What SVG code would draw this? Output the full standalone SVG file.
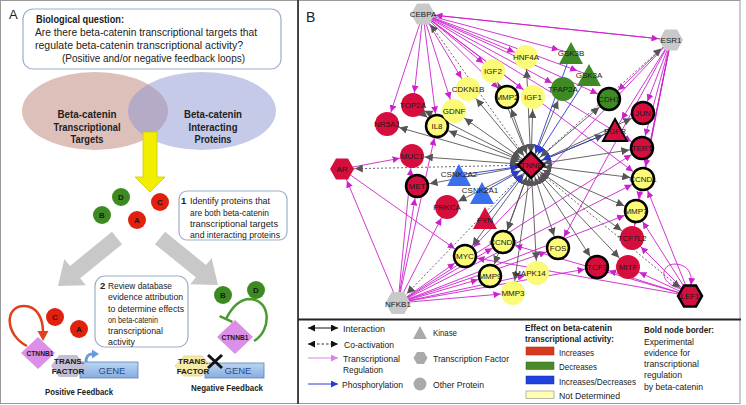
<svg xmlns="http://www.w3.org/2000/svg" width="746" height="405" viewBox="0 0 746 405">
<style>
text{font-family:"Liberation Sans",Arial,sans-serif;fill:#222}
.nl{font-size:8px;text-anchor:middle;fill:#1a1a1a}
.r{fill:#d60e3e}
.y{fill:#fbfb78}
.gn{fill:#3e8b25}
.bu{fill:#3a6ff0}
.gy{fill:#c9c9c9}
.ring{fill:none;stroke:#000;stroke-width:2.5}
.m{stroke:#cc22cc;stroke-width:0.9;fill:none;marker-end:url(#am)}
.g{stroke:#555;stroke-width:0.9;marker-start:url(#ag);marker-end:url(#ag)}
.d{stroke:#555;stroke-width:0.9;stroke-dasharray:2 2;marker-start:url(#ag);marker-end:url(#ag)}
.b{stroke:#2b3ad0;stroke-width:0.9;marker-end:url(#ab)}
.bx{fill:#fff;stroke:#9cadcc;stroke-width:1.2}
.ta{font-size:10.5px}
.tb{font-size:9.5px}
.tl{font-size:9.5px}
.bo{font-weight:bold}
.lt{font-size:8px;font-weight:bold;text-anchor:middle;fill:#1a1a1a}
</style>
<defs>
<marker id="ag" viewBox="0 0 10 10" refX="26" refY="5" markerUnits="userSpaceOnUse" markerWidth="8" markerHeight="8" orient="auto-start-reverse"><path d="M0,0L10,5L0,10z" fill="#555"/></marker>
<marker id="am" viewBox="0 0 10 10" refX="28" refY="5" markerUnits="userSpaceOnUse" markerWidth="7" markerHeight="7" orient="auto"><path d="M0,0L10,5L0,10z" fill="#cc22cc"/></marker>
<marker id="am0" viewBox="0 0 10 10" refX="10" refY="5" markerUnits="userSpaceOnUse" markerWidth="7" markerHeight="7" orient="auto"><path d="M0,0L10,5L0,10z" fill="#cc22cc"/></marker>
<marker id="ab" viewBox="0 0 10 10" refX="26" refY="5" markerUnits="userSpaceOnUse" markerWidth="8" markerHeight="8" orient="auto"><path d="M0,0L10,5L0,10z" fill="#2b3ad0"/></marker>
<marker id="lk" viewBox="0 0 10 10" refX="10" refY="5" markerUnits="userSpaceOnUse" markerWidth="7" markerHeight="7" orient="auto-start-reverse"><path d="M0,0L10,5L0,10z" fill="#111"/></marker>
<marker id="lm" viewBox="0 0 10 10" refX="10" refY="5" markerUnits="userSpaceOnUse" markerWidth="7" markerHeight="7" orient="auto"><path d="M0,0L10,5L0,10z" fill="#e07ef0"/></marker>
<marker id="lb" viewBox="0 0 10 10" refX="10" refY="5" markerUnits="userSpaceOnUse" markerWidth="7" markerHeight="7" orient="auto"><path d="M0,0L10,5L0,10z" fill="#2b3ad0"/></marker>
<polygon id="hex" points="-12,0 -6,-10.4 6,-10.4 12,0 6,10.4 -6,10.4"/>
<polygon id="tri" points="0,-11 12,11 -12,11"/>
<linearGradient id="gene" x1="0" y1="0" x2="0" y2="1"><stop offset="0" stop-color="#bcd6f2"/><stop offset="1" stop-color="#86ace0"/></linearGradient>
</defs>

<!-- frames -->
<rect x="0.5" y="0.5" width="297.5" height="403" fill="#fff" stroke="#999"/>
<rect x="298.5" y="0.5" width="441.5" height="403" fill="#fff" stroke="#999"/>
<line x1="298" y1="0" x2="298" y2="404" stroke="#222" stroke-width="1.5"/>
<line x1="298" y1="319.5" x2="741" y2="319.5" stroke="#222" stroke-width="2"/>

<!-- PANEL A -->
<g id="panelA">
<text x="9" y="19" font-size="13">A</text>
<g id="question">
<rect class="bx" x="23" y="9" width="258" height="60" rx="10"/>
<text class="ta bo" x="36" y="23" textLength="88" lengthAdjust="spacingAndGlyphs">Biological question:</text>
<text class="ta" x="35" y="36" textLength="222" lengthAdjust="spacingAndGlyphs">Are there beta-catenin transcriptional targets that</text>
<text class="ta" x="35" y="49" textLength="208" lengthAdjust="spacingAndGlyphs">regulate beta-catenin transcriptional activity?</text>
<text class="ta" x="62" y="62" textLength="183" lengthAdjust="spacingAndGlyphs">(Positive and/or negative feedback loops)</text>
</g>
<g id="venn">
<ellipse cx="95" cy="111" rx="73" ry="39" fill="#be8278" fill-opacity="0.5"/>
<ellipse cx="202" cy="111" rx="74" ry="39" fill="#8c96d2" fill-opacity="0.5"/>
<text class="ta bo" x="87" y="118" text-anchor="middle" textLength="59" lengthAdjust="spacingAndGlyphs">Beta-catenin</text>
<text class="ta bo" x="87" y="131" text-anchor="middle" textLength="67" lengthAdjust="spacingAndGlyphs">Transcriptional</text>
<text class="ta bo" x="87" y="143" text-anchor="middle" textLength="33" lengthAdjust="spacingAndGlyphs">Targets</text>
<text class="ta bo" x="213" y="118" text-anchor="middle" textLength="58" lengthAdjust="spacingAndGlyphs">Beta-catenin</text>
<text class="ta bo" x="213" y="131" text-anchor="middle" textLength="49" lengthAdjust="spacingAndGlyphs">Interacting</text>
<text class="ta bo" x="213" y="143" text-anchor="middle" textLength="37" lengthAdjust="spacingAndGlyphs">Proteins</text>
</g>
<polygon id="yellowArrow" points="143,132 157,132 157,177 165,177 150,192 135,177 143,177" fill="#f2ee00" stroke="#d0c800" stroke-width="0.8"/>
<g id="dots">
<circle cx="121" cy="197" r="9" fill="#3d8a22"/><text class="lt" x="121" y="200">D</text>
<circle cx="102" cy="215" r="9" fill="#3d8a22"/><text class="lt" x="102" y="218">B</text>
<circle cx="160" cy="202" r="9" fill="#e2200e"/><text class="lt" x="160" y="205">C</text>
<circle cx="137" cy="220" r="9" fill="#e2200e"/><text class="lt" x="137" y="223">A</text>
</g>
<g id="step1">
<rect class="bx" x="179" y="191" width="108" height="49" rx="8"/>
<text class="tb bo" x="181" y="204">1</text>
<text class="tb" x="190" y="204" textLength="80" lengthAdjust="spacingAndGlyphs">Identify proteins that</text>
<text class="tb" x="190" y="215.5" textLength="79" lengthAdjust="spacingAndGlyphs">are both beta-catenin</text>
<text class="tb" x="190" y="226.5" textLength="88" lengthAdjust="spacingAndGlyphs">transcriptional targets</text>
<text class="tb" x="190" y="237.5" textLength="90" lengthAdjust="spacingAndGlyphs">and interacting proteins</text>
</g>
<polygon id="grayArrowL" points="122.05,244.21 80.12,278.33 85.8,285.31 58,286 64.34,258.93 70.02,265.91 111.95,231.79" fill="#c8c8c8"/>
<polygon id="grayArrowR" points="165.04,231.78 205.95,264.93 211.61,257.94 218,285 190.21,284.36 195.87,277.37 154.96,244.22" fill="#c8c8c8"/>
<g id="step2">
<rect class="bx" x="95" y="276" width="93" height="71" rx="10"/>
<text class="tb bo" x="100" y="289">2</text>
<text class="tb" x="108" y="289" textLength="64" lengthAdjust="spacingAndGlyphs">Review database</text>
<text class="tb" x="108" y="300" textLength="75" lengthAdjust="spacingAndGlyphs">evidence attribution</text>
<text class="tb" x="108" y="311.5" textLength="76" lengthAdjust="spacingAndGlyphs">to determine effects</text>
<text class="tb" x="108" y="323" textLength="50" lengthAdjust="spacingAndGlyphs">on beta-catenin</text>
<text class="tb" x="108" y="334" textLength="55" lengthAdjust="spacingAndGlyphs">transcriptional</text>
<text class="tb" x="108" y="345" textLength="27" lengthAdjust="spacingAndGlyphs">activity</text>
</g>
<g id="positive">
<path d="M27,346 C5,335 4,306 24,306 C38,306 43,320 43,332" fill="none" stroke="#e0401a" stroke-width="2.5"/>
<polygon points="37.5,331 48.5,331 43,341" fill="#e0401a"/>
<circle cx="55" cy="317" r="9" fill="#e2200e"/><text class="lt" x="55" y="320">C</text>
<circle cx="79" cy="329" r="9" fill="#e2200e"/><text class="lt" x="79" y="332">A</text>
<rect x="80" y="362" width="58" height="16" fill="url(#gene)" stroke="#5a80b8" stroke-width="0.8"/>
<text x="112" y="374" font-size="9.5" text-anchor="middle" fill="#2a4a8a" style="fill:#2a4a8a">GENE</text>
<polygon points="38,337 55,353 38,369 21,353" fill="#dc8fe6"/>
<text class="lt" x="40" y="356" font-size="7.5" textLength="27" lengthAdjust="spacingAndGlyphs">CTNNB1</text>
<polygon points="51,366 59,355 77,355 85,366 77,377 59,377" fill="#c4bfd4"/>
<text class="lt" x="69" y="364" font-size="7">TRANS.</text>
<text class="lt" x="68" y="374" font-size="7">FACTOR</text>
<path d="M86,362 C86,356 88,354 93,354" fill="none" stroke="#6a9ad8" stroke-width="3"/>
<polygon points="92,349.5 99,354 92,358.5" fill="#6a9ad8"/>
<text class="bo" x="79" y="395" font-size="9.5" text-anchor="middle" textLength="68" lengthAdjust="spacingAndGlyphs">Positive Feedback</text>
</g>
<g id="negative">
<path d="M254,341 C272,330 271,300 250,299 C238,299 231,309 226,319" fill="none" stroke="#4a9a30" stroke-width="2.5"/>
<line x1="219.6" y1="316.2" x2="232.4" y2="321.8" stroke="#4a9a30" stroke-width="2.5"/>
<circle cx="223" cy="295" r="9" fill="#3d8a22"/><text class="lt" x="223" y="298">B</text>
<circle cx="256" cy="290" r="9" fill="#3d8a22"/><text class="lt" x="256" y="293">D</text>
<polygon points="235,320 253,337 235,354 217,337" fill="#dc8fe6"/>
<text class="lt" x="235" y="340" font-size="7.5" textLength="27" lengthAdjust="spacingAndGlyphs">CTNNB1</text>
<rect x="205" y="363" width="59" height="15" fill="url(#gene)" stroke="#5a80b8" stroke-width="0.8"/>
<text x="238" y="374" font-size="9.5" text-anchor="middle" style="fill:#2a4a8a">GENE</text>
<polygon points="175,366 184,356 202,356 211,366 202,376 184,376" fill="#f7e9a8" stroke="#d8c880" stroke-width="0.6"/>
<text class="lt" x="193" y="364" font-size="7">TRANS.</text>
<text class="lt" x="193" y="374" font-size="7">FACTOR</text>
<line x1="208" y1="355" x2="222" y2="368" stroke="#111" stroke-width="3"/>
<line x1="222" y1="355" x2="208" y2="368" stroke="#111" stroke-width="3"/>
<text class="bo" x="227" y="391" font-size="9.5" text-anchor="middle" textLength="72" lengthAdjust="spacingAndGlyphs">Negative Feedback</text>
</g>
</g>

<!-- PANEL B -->
<text x="306" y="22" font-size="14">B</text>
<g id="connectors">
<!-- transcriptional regulation -->
<line class="m" x1="423" y1="14" x2="387" y2="124"/>
<line class="m" x1="423" y1="14" x2="413" y2="105"/>
<line class="m" x1="423" y1="14" x2="437" y2="126"/>
<line class="m" x1="423" y1="14" x2="454" y2="111"/>
<line class="m" x1="423" y1="14" x2="468" y2="89"/>
<line class="m" x1="423" y1="14" x2="493" y2="71"/>
<line class="m" x1="423" y1="14" x2="526" y2="57"/>
<line class="m" x1="423" y1="14" x2="571" y2="53"/>
<line class="m" x1="423" y1="14" x2="563" y2="89"/>
<line class="m" x1="423" y1="14" x2="533" y2="97"/>
<line class="m" x1="423" y1="14" x2="589" y2="75"/>
<line class="m" x1="423" y1="14" x2="671" y2="40"/>
<line class="m" x1="423" y1="14" x2="609" y2="99"/>
<line class="m" x1="423" y1="14" x2="642" y2="148"/>
<line class="m" x1="423" y1="14" x2="643" y2="179"/>
<line class="m" x1="423" y1="14" x2="507" y2="97"/>
<line class="m" x1="671" y1="40" x2="423" y2="14"/>
<line class="m" x1="671" y1="40" x2="609" y2="99"/>
<line class="m" x1="671" y1="40" x2="615" y2="130"/>
<line class="m" x1="671" y1="40" x2="643" y2="113"/>
<line class="m" x1="671" y1="40" x2="642" y2="148"/>
<line class="m" x1="671" y1="40" x2="643" y2="179"/>
<line class="m" x1="671" y1="40" x2="636" y2="211"/>
<line class="m" x1="671" y1="40" x2="632" y2="238"/>
<line class="m" x1="671" y1="40" x2="558" y2="248"/>
<line class="m" x1="671" y1="40" x2="465" y2="256"/>
<line class="m" x1="398" y1="303" x2="342" y2="169"/>
<line class="m" x1="398" y1="303" x2="412" y2="156"/>
<line class="m" x1="398" y1="303" x2="417" y2="186"/>
<line class="m" x1="398" y1="303" x2="447" y2="207"/>
<line class="m" x1="398" y1="303" x2="437" y2="126"/>
<line class="m" x1="398" y1="303" x2="465" y2="256"/>
<line class="m" x1="398" y1="303" x2="490" y2="276"/>
<line class="m" x1="398" y1="303" x2="513" y2="293"/>
<line class="m" x1="398" y1="303" x2="537" y2="273"/>
<line class="m" x1="398" y1="303" x2="503" y2="242"/>
<line class="m" x1="398" y1="303" x2="558" y2="248"/>
<line class="m" x1="398" y1="303" x2="597" y2="267"/>
<line class="m" x1="398" y1="303" x2="643" y2="179"/>
<line class="m" x1="398" y1="303" x2="642" y2="148"/>
<line class="m" x1="398" y1="303" x2="636" y2="211"/>
<line class="m" x1="690" y1="296" x2="643" y2="179"/>
<line class="m" x1="690" y1="296" x2="636" y2="211"/>
<line class="m" x1="690" y1="296" x2="632" y2="238"/>
<line class="m" x1="690" y1="296" x2="628" y2="267"/>
<line class="m" x1="690" y1="296" x2="597" y2="267"/>
<line class="m" x1="690" y1="296" x2="465" y2="256"/>
<line class="m" x1="690" y1="296" x2="503" y2="242"/>
<line class="m" x1="342" y1="169" x2="412" y2="156"/>
<line class="m" x1="342" y1="169" x2="465" y2="256"/>
<path d="M682,289 C656,284 660,259 681,265 C690,268 692,276 691,285" fill="none" stroke="#cc22cc" stroke-width="0.9" marker-end="url(#am0)"/>
<!-- interactions -->
<line class="g" x1="531" y1="165" x2="413" y2="105"/>
<line class="g" x1="531" y1="165" x2="387" y2="124"/>
<line class="g" x1="531" y1="165" x2="437" y2="126"/>
<line class="g" x1="531" y1="165" x2="454" y2="111"/>
<line class="g" x1="531" y1="165" x2="468" y2="89"/>
<line class="g" x1="531" y1="165" x2="493" y2="71"/>
<line class="g" x1="531" y1="165" x2="507" y2="97"/>
<line class="g" x1="531" y1="165" x2="533" y2="97"/>
<line class="g" x1="531" y1="165" x2="526" y2="57"/>
<line class="g" x1="531" y1="165" x2="563" y2="89"/>
<line class="g" x1="531" y1="165" x2="609" y2="99"/>
<line class="g" x1="531" y1="165" x2="643" y2="113"/>
<line class="g" x1="531" y1="165" x2="615" y2="130"/>
<line class="g" x1="531" y1="165" x2="642" y2="148"/>
<line class="g" x1="531" y1="165" x2="643" y2="179"/>
<line class="g" x1="531" y1="165" x2="636" y2="211"/>
<line class="g" x1="531" y1="165" x2="632" y2="238"/>
<line class="g" x1="531" y1="165" x2="628" y2="267"/>
<line class="g" x1="531" y1="165" x2="597" y2="267"/>
<line class="g" x1="531" y1="165" x2="558" y2="248"/>
<line class="g" x1="531" y1="165" x2="537" y2="273"/>
<line class="g" x1="531" y1="165" x2="513" y2="293"/>
<line class="g" x1="531" y1="165" x2="490" y2="276"/>
<line class="g" x1="531" y1="165" x2="503" y2="242"/>
<line class="g" x1="531" y1="165" x2="465" y2="256"/>
<line class="g" x1="531" y1="165" x2="447" y2="207"/>
<line class="g" x1="531" y1="165" x2="417" y2="186"/>
<line class="g" x1="531" y1="165" x2="412" y2="156"/>
<line x1="413" y1="105" x2="437" y2="126" stroke="#555" stroke-width="0.9" marker-end="url(#ag)"/>
<!-- co-activation -->
<line class="d" x1="531" y1="165" x2="342" y2="169"/>
<line class="d" x1="531" y1="165" x2="423" y2="14"/>
<line class="d" x1="531" y1="165" x2="671" y2="40"/>
<line class="d" x1="531" y1="165" x2="398" y2="303"/>
<line class="d" x1="531" y1="165" x2="690" y2="296"/>
<!-- phosphorylation -->
<line class="b" x1="571" y1="53" x2="531" y2="165"/>
<line class="b" x1="589" y1="75" x2="531" y2="165"/>
<line class="b" x1="459" y1="175" x2="531" y2="165"/>
<line class="b" x1="482" y1="193" x2="531" y2="165"/>
<line class="b" x1="615" y1="130" x2="531" y2="165"/>
<line class="b" x1="485" y1="218" x2="531" y2="165"/>
</g>

<!-- nodes -->
<g id="n-CEBPA"><use href="#hex" x="423" y="14" class="gy"/><text class="nl" x="423" y="17">CEBPA</text></g>
<g id="n-ESR1"><use href="#hex" x="671" y="40" class="gy"/><text class="nl" x="671" y="43">ESR1</text></g>
<g id="n-NFKB1"><use href="#hex" x="398" y="303" class="gy" transform="translate(398 303) scale(1.05) translate(-398 -303)"/><text class="nl" x="398" y="307">NFKB1</text></g>
<g id="n-AR"><use href="#hex" x="342" y="169" class="r"/><text class="nl" x="342" y="172">AR</text></g>
<g id="n-TOP2A"><circle cx="413" cy="105" r="12" class="r"/><text class="nl" x="413" y="108">TOP2A</text></g>
<g id="n-NR5A1"><circle cx="387" cy="124" r="12" class="r"/><text class="nl" x="387" y="127">NR5A1</text></g>
<g id="n-IL8"><circle cx="437" cy="126" r="11" class="y"/><text class="nl" x="437" y="129">IL8</text><circle cx="437" cy="126" r="11" class="ring"/></g>
<g id="n-GDNF"><circle cx="454" cy="111" r="12" class="y"/><text class="nl" x="454" y="114">GDNF</text></g>
<g id="n-CDKN1B"><circle cx="468" cy="89" r="12" class="y"/><text class="nl" x="468" y="92">CDKN1B</text></g>
<g id="n-IGF2"><circle cx="493" cy="71" r="12" class="y"/><text class="nl" x="493" y="74">IGF2</text></g>
<g id="n-HNF4A"><circle cx="526" cy="57" r="12" class="y"/><text class="nl" x="526" y="60">HNF4A</text></g>
<g id="n-MMP2"><circle cx="507" cy="97" r="11" class="y"/><text class="nl" x="507" y="100">MMP2</text><circle cx="507" cy="97" r="11" class="ring"/></g>
<g id="n-IGF1"><circle cx="533" cy="97" r="12" class="y"/><text class="nl" x="533" y="100">IGF1</text></g>
<g id="n-TFAP2A"><circle cx="563" cy="89" r="12" class="gn"/><text class="nl" x="563" y="92">TFAP2A</text></g>
<g id="n-GSK3B"><use href="#tri" x="571" y="53" class="gn"/><text class="nl" x="571" y="56">GSK3B</text></g>
<g id="n-GSK3A"><use href="#tri" x="589" y="75" class="gn"/><text class="nl" x="589" y="78">GSK3A</text></g>
<g id="n-CDH1"><circle cx="609" cy="99" r="11" class="gn"/><text class="nl" x="609" y="102">CDH1</text><circle cx="609" cy="99" r="11" class="ring"/></g>
<g id="n-JUN"><circle cx="643" cy="113" r="11" class="r"/><text class="nl" x="643" y="116">JUN</text><circle cx="643" cy="113" r="11" class="ring"/></g>
<g id="n-EGFR"><use href="#tri" x="615" y="130" class="r" style="stroke:#000;stroke-width:2"/><text class="nl" x="615" y="134">EGFR</text></g>
<g id="n-TERT"><circle cx="642" cy="148" r="11" class="r"/><text class="nl" x="642" y="151">TERT</text><circle cx="642" cy="148" r="11" class="ring"/></g>
<g id="n-CCND1"><circle cx="643" cy="179" r="11" class="y"/><text class="nl" x="643" y="182">CCND1</text><circle cx="643" cy="179" r="11" class="ring"/></g>
<g id="n-MMP7"><circle cx="636" cy="211" r="11" class="y"/><text class="nl" x="636" y="214">MMP7</text><circle cx="636" cy="211" r="11" class="ring"/></g>
<g id="n-TCF7L2"><circle cx="632" cy="238" r="12" class="r"/><text class="nl" x="632" y="241">TCF7L2</text></g>
<g id="n-MITF"><circle cx="628" cy="267" r="12" class="r"/><text class="nl" x="628" y="270">MITF</text></g>
<g id="n-TCF3"><circle cx="597" cy="267" r="11" class="r"/><text class="nl" x="597" y="270">TCF3</text><circle cx="597" cy="267" r="11" class="ring"/></g>
<g id="n-LEF1"><use href="#hex" x="690" y="296" class="r"/><text class="nl" x="690" y="299">LEF1</text><use href="#hex" x="690" y="296" class="ring"/></g>
<g id="n-MUC1"><circle cx="412" cy="156" r="12" class="r"/><text class="nl" x="412" y="159">MUC1</text></g>
<g id="n-MET"><circle cx="417" cy="186" r="11" class="r"/><text class="nl" x="417" y="189">MET</text><circle cx="417" cy="186" r="11" class="ring"/></g>
<g id="n-PRKCA"><circle cx="447" cy="207" r="12" class="r"/><text class="nl" x="447" y="210">PRKCA</text></g>
<g id="n-CSNK2A2"><use href="#tri" x="459" y="175" class="bu"/><text class="nl" x="459" y="177">CSNK2A2</text></g>
<g id="n-CSNK2A1"><use href="#tri" x="482" y="193" class="bu"/><text class="nl" x="480" y="193">CSNK2A1</text></g>
<g id="n-FYN"><use href="#tri" x="485" y="218" class="r"/><text class="nl" x="485" y="223">FYN</text></g>
<g id="n-CCND2"><circle cx="503" cy="242" r="11" class="y"/><text class="nl" x="503" y="245">CCND2</text><circle cx="503" cy="242" r="11" class="ring"/></g>
<g id="n-MYC"><circle cx="465" cy="256" r="11" class="y"/><text class="nl" x="465" y="259">MYC</text><circle cx="465" cy="256" r="11" class="ring"/></g>
<g id="n-FOS"><circle cx="558" cy="248" r="11" class="y"/><text class="nl" x="558" y="251">FOS</text><circle cx="558" cy="248" r="11" class="ring"/></g>
<g id="n-MMP9"><circle cx="490" cy="276" r="11" class="y"/><text class="nl" x="490" y="279">MMP9</text><circle cx="490" cy="276" r="11" class="ring"/></g>
<g id="n-MAPK14"><circle cx="537" cy="273" r="12" class="y"/><text class="nl" x="530" y="276">MAPK14</text></g>
<g id="n-MMP3"><circle cx="513" cy="293" r="12" class="y"/><text class="nl" x="513" y="296">MMP3</text></g>
<g id="n-CTNNB1"><polygon points="531,152 544,165 531,178 518,165" class="r" stroke="#000" stroke-width="2.5"/><text class="nl" x="531" y="168">CTNNB1</text></g>

<!-- legend -->
<g id="legend">
<line x1="308" y1="328" x2="338" y2="328" stroke="#111" stroke-width="1" marker-start="url(#lk)" marker-end="url(#lk)"/>
<text class="tl" x="343" y="332" textLength="42" lengthAdjust="spacingAndGlyphs">Interaction</text>
<line x1="308" y1="344" x2="338" y2="344" stroke="#333" stroke-width="1" stroke-dasharray="2.5 2" marker-start="url(#lk)" marker-end="url(#lk)"/>
<text class="tl" x="344" y="348" textLength="50" lengthAdjust="spacingAndGlyphs">Co-activation</text>
<line x1="308" y1="358" x2="338" y2="358" stroke="#e07ef0" stroke-width="1" marker-end="url(#lm)"/>
<text class="tl" x="343" y="362" textLength="57" lengthAdjust="spacingAndGlyphs">Transcriptional</text>
<text class="tl" x="343" y="373" textLength="40" lengthAdjust="spacingAndGlyphs">Regulation</text>
<line x1="308" y1="384" x2="338" y2="384" stroke="#2b3ad0" stroke-width="1" marker-end="url(#lb)"/>
<text class="tl" x="342" y="388" textLength="61" lengthAdjust="spacingAndGlyphs">Phosphorylation</text>
<polygon points="420,326 427,339 413,339" fill="#aaa"/>
<text class="tl" x="433" y="336" textLength="24" lengthAdjust="spacingAndGlyphs">Kinase</text>
<polygon points="413.5,358 417,352 424,352 427.5,358 424,364 417,364" fill="#aaa"/>
<text class="tl" x="433" y="362" textLength="76" lengthAdjust="spacingAndGlyphs">Transcription Factor</text>
<circle cx="420" cy="384" r="6.5" fill="#aaa"/>
<text class="tl" x="433" y="388" textLength="51" lengthAdjust="spacingAndGlyphs">Other Protein</text>
<text class="tl bo" x="525" y="331" textLength="87" lengthAdjust="spacingAndGlyphs">Effect on  beta-catenin</text>
<text class="tl bo" x="525" y="342" textLength="89" lengthAdjust="spacingAndGlyphs">transcriptional activity:</text>
<rect x="526" y="347" width="28" height="8" fill="#d83a1c" stroke="#a02010" stroke-width="0.5"/>
<text class="tl" x="559" y="356" textLength="35" lengthAdjust="spacingAndGlyphs">Increases</text>
<rect x="526" y="362" width="28" height="7.5" fill="#4a8a2a" stroke="#2a6a1a" stroke-width="0.5"/>
<text class="tl" x="559" y="370" textLength="38" lengthAdjust="spacingAndGlyphs">Decreases</text>
<rect x="526" y="376" width="28" height="8" fill="#2040e0" stroke="#1030a0" stroke-width="0.5"/>
<text class="tl" x="559" y="385" textLength="77" lengthAdjust="spacingAndGlyphs">Increases/Decreases</text>
<rect x="526" y="391" width="28" height="7.5" fill="#ffffb0" stroke="#888" stroke-width="0.6"/>
<text class="tl" x="559" y="399" textLength="61" lengthAdjust="spacingAndGlyphs">Not Determined</text>
<text class="tl bo" x="644" y="333" textLength="70" lengthAdjust="spacingAndGlyphs">Bold node border:</text>
<text class="tl" x="644" y="345" textLength="50" lengthAdjust="spacingAndGlyphs">Experimental</text>
<text class="tl" x="644" y="356" textLength="46" lengthAdjust="spacingAndGlyphs">evidence for</text>
<text class="tl" x="644" y="367" textLength="55" lengthAdjust="spacingAndGlyphs">transcriptional</text>
<text class="tl" x="644" y="378" textLength="38" lengthAdjust="spacingAndGlyphs">regulation</text>
<text class="tl" x="644" y="390" textLength="59" lengthAdjust="spacingAndGlyphs">by beta-catenin</text>
</g>
</svg>
